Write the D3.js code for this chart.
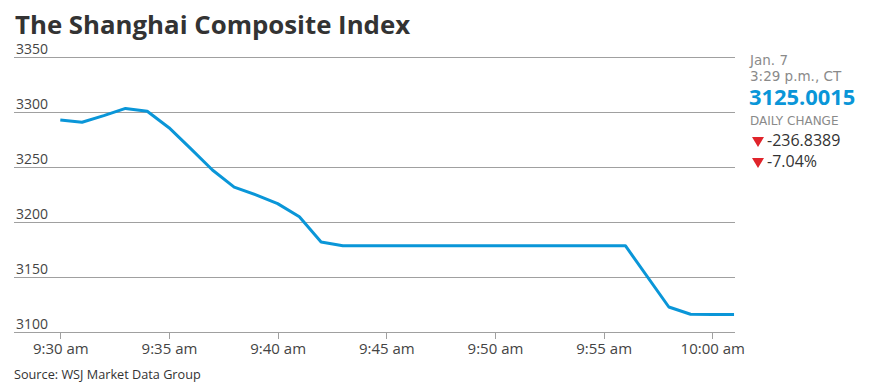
<!DOCTYPE html>
<html>
<head>
<meta charset="utf-8">
<script src="https://cdn.jsdelivr.net/npm/d3@7"></script>
<style>
  body { margin: 0; background: #fff; }
  svg { display: block; }
  .grid line { stroke: #a0a0a0; stroke-width: 1; shape-rendering: crispEdges; }
  .ylab { font-family: 'Open Sans', sans-serif; font-size: 14px; fill: #444; }
  .x.axis text { font-family: 'Open Sans', sans-serif; font-size: 15px; fill: #444; }
  .x.axis line { stroke: #a0a0a0; shape-rendering: crispEdges; }
  .x.axis path { display: none; }
</style>
</head>
<body>
<div id="chart"></div>
<script>
// minute-by-minute readings (only where the line bends)
var times = ["9:30", "9:31", "9:32", "9:33", "9:34", "9:35", "9:36", "9:37", "9:38", "9:39",
             "9:40", "9:41", "9:42", "9:43", "9:56", "9:58", "9:59", "10:00", "10:01"];
var values = [3293, 3291, 3297, 3303.5, 3301, 3286, 3267, 3247.5, 3232, 3225,
              3217, 3205, 3182, 3178.7, 3178.7, 3123, 3116.4, 3116.2, 3116.2];

var yTicks = [3100, 3150, 3200, 3250, 3300, 3350];
var xTicks = ["9:30", "9:35", "9:40", "9:45", "9:50", "9:55", "10:00"];

var title = "The Shanghai Composite Index";
var source = "Source: WSJ Market Data Group";
var panel = {date: "Jan. 7", time: "3:29 p.m., CT", last: "3125.0015",
             changeLabel: "DAILY CHANGE", change: "-236.8389", pct: "-7.04%"};

var W = 872, H = 390;
var blue = "#0a96d8";

var parseTime = d3.timeParse("%H:%M");
var data = times.map(function (t, i) { return {t: parseTime(t), v: values[i]}; });

var xScale = d3.scaleTime()
    .domain([parseTime("9:30"), parseTime("10:00")])
    .range([60.3, 712.3]);
var yScale = d3.scaleLinear()
    .domain([3100, 3350])
    .range([332.3, 57.3]);

var gridLeft = 14, gridRight = 735;

var svg = d3.select("#chart").append("svg")
    .attr("width", W).attr("height", H);

// Title
svg.append("text")
    .attr("x", 15).attr("y", 33.5)
    .style("font-family", "'Open Sans', sans-serif")
    .style("font-weight", "700")
    .style("font-size", "25.8px")
    .style("fill", "#333")
    .text(title);

// Gridlines + y labels
var grid = svg.append("g").attr("class", "grid");
grid.selectAll("line").data(yTicks).enter().append("line")
    .attr("x1", gridLeft).attr("x2", gridRight)
    .attr("y1", function (d) { return Math.round(yScale(d)) + 0.5; })
    .attr("y2", function (d) { return Math.round(yScale(d)) + 0.5; });

svg.selectAll("text.ylab").data(yTicks).enter().append("text")
    .attr("class", "ylab")
    .attr("x", 48).attr("y", function (d) { return yScale(d) - 3; })
    .style("text-anchor", "end")
    .text(function (d) { return d; });

// X axis
var fmt = d3.timeFormat("%-I:%M %p");
var xAxis = d3.axisBottom(xScale)
    .tickValues(xTicks.map(parseTime))
    .tickSize(6).tickPadding(4.5)
    .tickFormat(function (d) { return fmt(d).toLowerCase(); });

svg.append("g")
    .attr("class", "x axis")
    .attr("transform", "translate(0," + (Math.round(yScale(3100)) + 0.5) + ")")
    .call(xAxis);

// Line
var line = d3.line()
    .x(function (d) { return xScale(d.t); })
    .y(function (d) { return yScale(d.v); })
    .curve(d3.curveLinear);

svg.append("path")
    .datum(data)
    .attr("d", line)
    .style("fill", "none")
    .style("stroke", blue)
    .style("stroke-width", 3)
    .style("stroke-linejoin", "round");

// Right panel
var px = 750;
var side = svg.append("g");
side.append("text").attr("x", px).attr("y", 65).style("font-family", "'DejaVu Sans', sans-serif")
    .style("font-size", "13.5px").style("fill", "#8a8a8a").text(panel.date);
side.append("text").attr("x", px).attr("y", 80.5).style("font-family", "'DejaVu Sans', sans-serif")
    .style("font-size", "13.5px").style("fill", "#8a8a8a").text(panel.time);
side.append("text").attr("x", px - 1).attr("y", 105).style("font-family", "'Open Sans', sans-serif")
    .style("font-size", "21.9px").style("font-weight", "700").style("fill", blue).text(panel.last);
side.append("text").attr("x", px).attr("y", 125).style("font-family", "'DejaVu Sans', sans-serif")
    .style("font-size", "12px").style("fill", "#8a8a8a").text(panel.changeLabel);

[[panel.change, 146], [panel.pct, 167]].forEach(function (r) {
    side.append("path")
        .attr("d", "M752," + (r[1] - 9) + "L764," + (r[1] - 9) + "L758," + (r[1] + 1) + "Z")
        .style("fill", "#e0242b");
    side.append("text").attr("x", 767).attr("y", r[1]).style("font-family", "'Open Sans', sans-serif")
        .style("font-size", "16px").style("fill", "#333").text(r[0]);
});

// Source
svg.append("text")
    .attr("x", 14).attr("y", 378.5)
    .style("font-family", "'Open Sans', sans-serif")
    .style("font-size", "12.7px")
    .style("fill", "#333")
    .text(source);
</script>
</body>
</html>
